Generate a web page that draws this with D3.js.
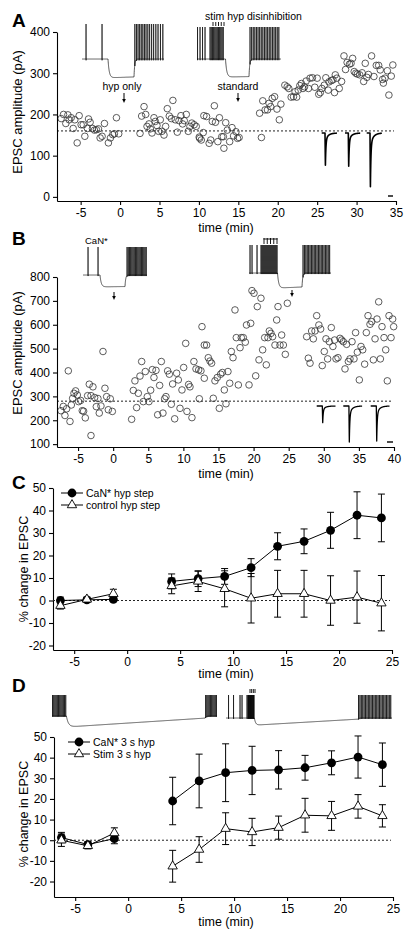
<!DOCTYPE html>
<html><head><meta charset="utf-8">
<script src="https://cdn.jsdelivr.net/npm/d3@7"></script>
<style>
body{margin:0;background:#fff;}
svg text{font-family:"Liberation Sans",Arial,sans-serif;fill:#000;}
</style></head><body>
<svg id="c" width="411" height="941"></svg>
<script>
// ---------------- DATA ----------------
const aTicksX = [-5,0,5,10,15,20,25,30,35];
const aTicksY = [0,100,200,300,400];
const aBaseline = 160;
const aPoints = [
[-7.47,190],[-7.17,200],[-6.88,178],[-6.62,199],[-6.46,187],[-6.2,192],[-5.95,166],[-5.74,187],[-5.44,131],[-5.19,197],[-4.94,175],[-4.68,175],[-4.47,147],[-4.14,166],[-4.0,189],[-3.8,181],[-3.5,166],[-3.25,162],[-3.0,163],[-2.74,165],[-2.53,143],[-2.28,147],[-1.98,178],[-1.48,131],[-1.22,143],[-0.93,151],[-0.72,153],[-0.46,192],[-0.17,153],
[2.53,154],[2.74,196],[3.04,219],[3.25,200],[3.42,171],[3.67,177],[3.84,165],[4.05,155],[4.3,192],[4.47,183],[4.68,173],[4.89,159],[5.1,187],[5.3,159],[5.57,150],[5.78,171],[5.99,214],[6.24,196],[6.5,190],[6.7,234],[7.0,187],[7.26,157],[7.47,185],[7.72,197],[7.93,177],[8.14,185],[8.4,200],[8.65,159],[8.86,171],[9.1,179],[9.4,175],[9.66,171],[10.04,145],[10.1,142],[10.3,138],[10.55,156],[10.63,197],[10.97,195],[11.3,130],[11.5,138],[11.7,183],[11.96,221],[12.1,181],[12.4,134],[12.6,192],[12.9,146],[13.1,146],[13.17,118],[13.4,180],[13.6,162],[13.9,134],[14.2,168],[14.4,148],[14.7,158],[14.9,142],[15.1,144],
[17.93,144],[17.7,203],[18.1,233],[18.4,211],[18.7,211],[18.9,227],[19.1,219],[19.3,239],[19.6,243],[19.9,213],[20.2,187],[20.4,225],[20.9,271],[21.2,267],[21.4,263],[21.7,242],[22.0,243],[22.2,255],[22.4,242],[22.6,259],[22.8,270],[23.0,275],[23.2,263],[23.4,267],[23.6,281],[23.9,263],[24.1,288],[24.4,289],[24.7,266],[25.0,288],[25.2,249],[25.4,253],[25.6,263],[25.9,271],[26.1,289],[26.4,259],[26.5,279],[26.8,282],[27.0,284],[27.2,253],[27.3,296],[27.5,288],[27.8,263],[28.1,280],[28.4,342],[28.6,309],[28.8,326],[29.1,322],[29.3,324],[29.5,336],[29.7,304],[29.9,300],[30.1,298],[30.4,296],[30.7,301],[30.9,280],[31.1,324],[31.3,290],[31.5,297],[31.9,342],[32.2,292],[32.5,319],[32.8,319],[33.0,308],[33.3,285],[33.4,276],[33.6,288],[33.9,306],[34.1,247],[34.4,293],[34.6,320]
];

const bTicksX = [-5,0,5,10,15,20,25,30,35,40];
const bTicksY = [100,200,300,400,500,600,700,800];
const bBaseline = 280;
const bPoints = [
[-7.44,240],[-7.1,258],[-6.87,220],[-6.63,248],[-6.39,407],[-6.15,195],[-5.96,264],[-5.77,292],[-5.58,313],[-5.35,323],[-5.11,306],[-4.92,278],[-4.63,283],[-4.4,240],[-4.21,238],[-3.97,210],[-3.64,303],[-3.4,351],[-3.16,303],[-3.16,136],[-2.88,340],[-2.64,295],[-2.4,257],[-2.17,291],[-1.98,230],[-1.74,260],[-1.45,488],[-1.17,334],[-0.93,299],[-0.69,244],[-0.41,290],[-0.12,237],
[2.63,204],[2.87,325],[3.1,365],[3.34,253],[3.58,313],[3.82,385],[4.06,446],[4.29,278],[4.58,404],[4.86,299],[5.1,278],[5.34,326],[5.58,412],[5.81,379],[6.1,409],[6.34,223],[6.62,346],[6.86,446],[7.09,230],[7.33,290],[7.52,299],[7.76,407],[8.0,393],[8.28,267],[8.47,352],[8.76,206],[9.04,397],[9.28,369],[9.52,250],[9.8,327],[10.04,421],[10.33,522],[10.51,237],[10.75,350],[10.94,340],[11.22,211],[11.5,446],[11.8,415],[12.18,411],[12.5,407],[12.27,290],[12.65,592],[12.98,376],[12.98,515],
[13.31,515],[13.55,462],[13.79,448],[14.02,439],[14.26,292],[14.5,365],[14.83,379],[15.12,250],[15.31,393],[15.55,400],[15.83,327],[16.07,269],[16.35,404],[16.6,355],[16.83,488],[17.07,462],[17.35,662],[17.54,546],[17.83,348],[18.07,504],[18.25,546],[18.54,546],[18.82,527],[18.99,599],[19.35,348],[19.59,606],[19.77,743],[20.06,732],[20.3,386],[20.53,676],[20.77,453],[21.05,711],[21.29,495],[21.58,546],[21.81,432],[22.05,546],[22.24,574],[22.48,564],[22.71,550],[23.05,515],[23.29,620],[23.48,676],[23.76,515],[24.0,557],[24.24,515],[24.52,476],[24.81,690],
[27.56,550],[27.8,460],[28.04,439],[28.27,574],[28.51,541],[28.75,574],[28.99,638],[29.3,599],[29.55,582],[29.78,429],[30.07,488],[30.31,541],[30.55,457],[30.79,529],[31.07,588],[31.3,509],[31.54,536],[31.74,457],[32.02,462],[32.31,543],[32.55,536],[32.78,529],[33.02,415],[33.26,518],[33.5,446],[33.73,457],[34.02,529],[34.3,457],[34.53,567],[34.78,485],[35.06,369],[35.3,509],[35.54,495],[35.82,435],[36.06,567],[36.3,638],[36.58,602],[36.83,613],[37.06,453],[37.3,541],[37.58,624],[37.82,696],[38.06,457],[38.29,592],[38.58,546],[38.82,495],[39.05,365],[39.29,638],[39.58,546],[39.81,624],[39.95,592]
];

const cdTicksX = [-5,0,5,10,15,20,25];
const cdTicksY = [-20,-10,0,10,20,30,40,50];
const cdTimes = [-6.3,-3.8,-1.3,4.2,6.7,9.2,11.7,14.2,16.7,19.2,21.7,24.0];
const cdBaselineCount = 3;

const cSeriesNames = ["CaN* hyp step","control hyp step"];
const cCaN     = [0,0.3,0.5,8.5,9.7,10.7,14.6,24.1,26.3,31.2,37.9,36.7];
const cCaNErr  = [1.5,1,1,3.3,3.5,3.5,4,6,5.5,8,10.4,10.6];
const cCtrl    = [-2.3,0.5,3,6.5,8.5,5.2,1.0,3.0,3.0,0,1.5,-1.2];
const cCtrlErr = [1.5,1,2,3.5,4.5,8,11,10.4,10.4,11,11.6,12.3];

const dSeriesNames = ["CaN* 3 s hyp","Stim 3 s hyp"];
const dCaN     = [1.3,-2.1,0.8,19,28.7,32.7,33.8,34.1,35.1,37.5,40.3,36.6];
const dCaNErr  = [2.5,1.5,2.5,11.5,13,14,11.7,9.3,6,5.8,10.2,10.5];
const dStim    = [0,-2.7,3.5,-12.6,-4.5,5.6,4.0,6.1,12.1,11.8,16.4,11.8];
const dStimErr = [3,1.5,2.5,7.7,6.2,7.7,6.6,5.6,8.2,7,5.7,5.4];

// inset membrane traces: spike times (ms), step [start,end,vStart,vEnd]
const trA1 = {dur:4100, spikes:[200,1000,2640,2720,2800,2880,2960,3040,3120,3200,3290,3380,3480,3580,3690,3800,3920,4040], step:[1300,2600,-103,-101]};
const trA2 = {dur:4200, spikes:[25,150,275,400,650,710,770,830,890,950,1010,1070,1130,1190,1250,1310,2650,2730,2810,2890,2970,3050,3130,3210,3290,3370,3450,3530,3610,3690,3770,3850,3930,4010,4090], step:[1425,2600,-105,-104]};
const trB1 = {dur:3200, spikes:[250,750,2200,2260,2320,2380,2440,2500,2560,2620,2680,2740,2800,2860,2920,2980,3040,3100,3160], step:[850,2100,-94,-93]};
const trB2 = {dur:4100, spikes:[50,150,400,600,650,700,750,800,850,900,950,1000,1050,1100,1150,1200,1250,1300,1350,1400,2700,2770,2840,2910,2980,3050,3120,3190,3260,3330,3400,3470,3540,3610,3680,3750,3820,3890,3960,4030], step:[1425,2650,-103,-100]};
const trD1 = {dur:8250, spikes:[25,85,145,205,265,325,385,445,505,565,625,685,7680,7740,7800,7860,7920,7980,8040,8100,8160,8220], step:[720,7650,-102,-68]};
const trD2 = {dur:8300, spikes:[125,375,700,800,1050,1100,1130,1160,1190,1220,1250,1280,1310,1340,1370,1400,6625,6695,6765,6835,6905,6975,7045,7115,7185,7255,7325,7395,7465,7535,7605,7675,7745,7815,7885,7955,8025,8095,8165,8235], step:[1420,6600,-85,-64]};

// inset EPSC amplitudes (pA, inset scale)
const aEpsc = [100,103,167];
const bEpsc = [52,112,109];

// ---------------- DRAWING ----------------
const svg = d3.select('#c');
svg.append('rect').attr('width',411).attr('height',941).attr('fill','#fff');
const FONT = '"Liberation Sans", Arial, sans-serif';
const fmt = d => String(d);

function drawAxes(x, y, xt, yt) {
  const ax = svg.append('g').attr('transform',`translate(0,${y.range()[0]})`)
    .call(d3.axisBottom(x).tickValues(xt).tickSize(4).tickSizeOuter(0).tickFormat(fmt));
  const ay = svg.append('g').attr('transform',`translate(${x.range()[0]},0)`)
    .call(d3.axisLeft(y).tickValues(yt).tickSize(4).tickSizeOuter(0).tickFormat(fmt));
  [ax,ay].forEach(a=>{
    a.attr('font-family',FONT).attr('font-size',12);
    a.selectAll('text').attr('fill','#000');
    a.select('.domain').attr('stroke','#000').attr('stroke-width',1.1);
    a.selectAll('.tick line').attr('stroke','#000').attr('stroke-width',1.1);
  });
}
function label(txt,x,y,size,opts={}) {
  const t = svg.append('text').attr('x',x).attr('y',y).attr('font-size',size).text(txt);
  if (opts.anchor) t.attr('text-anchor',opts.anchor);
  if (opts.bold) t.attr('font-weight','bold');
  if (opts.rot) t.attr('transform',`rotate(-90,${x},${y})`);
  return t;
}
function dotted(x,y,v) {
  svg.append('line').attr('x1',x.range()[0]).attr('x2',x.range()[1]-2)
    .attr('y1',y(v)).attr('y2',y(v)).attr('stroke','#222').attr('stroke-width',1).attr('stroke-dasharray','2,2');
}
function arrow(x,y1,y2){
  svg.append('line').attr('x1',x).attr('x2',x).attr('y1',y1).attr('y2',y2-3).attr('stroke','#000').attr('stroke-width',1);
  svg.append('path').attr('d',`M${x-1.8},${y2-4}L${x+1.8},${y2-4}L${x},${y2}Z`).attr('fill','#000');
}
function marks(x0,x1,n,y1,y2,bar){
  const xs = d3.scaleLinear([0,n-1],[x0,x1]);
  d3.range(n).forEach(i=>svg.append('line').attr('x1',xs(i)).attr('x2',xs(i)).attr('y1',y1).attr('y2',y2).attr('stroke','#000').attr('stroke-width',0.9));
  if (bar) svg.append('line').attr('x1',x0-0.5).attr('x2',x1+0.5).attr('y1',y1+1).attr('y2',y1+1).attr('stroke','#000').attr('stroke-width',0.9);
}

function buildVm(cfg, tauOn=60, tauOff=35) {
  const rest=-60, peak=20, [ts,te,v0,v1]=cfg.step;
  const v = t=>{
    if (t<ts) return rest;
    if (t<=te){ const l=v0+(v1-v0)*(t-ts)/(te-ts); return rest+(l-rest)*(1-Math.exp(-(t-ts)/tauOn)); }
    const vte = rest+(v1-rest)*(1-Math.exp(-(te-ts)/tauOn));
    return rest+(vte-rest)*Math.exp(-(t-te)/tauOff);
  };
  const sp = cfg.spikes.slice().sort((a,b)=>a-b);
  const pts=[]; let si=0, last=-1;
  for (let t=0;t<=cfg.dur;t+=5){
    while (si<sp.length && sp[si]<=t){ const s=sp[si]; pts.push([s,v(s)],[s+2,peak],[s+4,v(s)-3]); last=s+4; si++; }
    if (t>last) pts.push([t,v(t)]);
  }
  return pts;
}
function drawTrace(cfg,x0,x1,yRest,yPeak,tauOn,tauOff){
  const xs=d3.scaleLinear([0,cfg.dur],[x0,x1]);
  const ys=d3.scaleLinear([-60,20],[yRest,yPeak]);
  const line=d3.line().x(d=>xs(d[0])).y(d=>ys(d[1]));
  svg.append('path').attr('d',line(buildVm(cfg,tauOn,tauOff))).attr('fill','none').attr('stroke','#000').attr('stroke-width',0.65);
}
function drawEpsc(amp, x0, yBase, pre, total, pxPerMs, pxPerPa, width){
  const xs=d3.scaleLinear([0,total],[x0,x0+total*pxPerMs]);
  const ys=d3.scaleLinear([0,1],[yBase,yBase+pxPerPa]);
  const pts=[];
  for(let t=0;t<=total;t+=0.25){
    let v=0;
    if(t>=pre && t<pre+1.2) v=amp*(t-pre)/1.2;
    else if(t>=pre+1.2){ const u=t-pre-1.2; v=amp*(0.8*Math.exp(-u/1.6)+0.2*Math.exp(-u/9)); }
    pts.push([t,v]);
  }
  svg.append('path').attr('d',d3.line().x(d=>xs(d[0])).y(d=>ys(d[1]))(pts))
    .attr('fill','none').attr('stroke','#000').attr('stroke-width',width).attr('stroke-linejoin','round');
}
function scatter(x,y,pts){
  svg.append('g').selectAll('circle').data(pts).join('circle')
    .attr('cx',d=>x(d[0])).attr('cy',d=>y(d[1])).attr('r',3.3)
    .attr('fill','none').attr('stroke','#333').attr('stroke-width',0.8);
}

// ---------- Panel A ----------
const xA=d3.scaleLinear([-8,35],[57,396]);
const yA=d3.scaleLinear([-10,400],[201,32]);
dotted(xA,yA,aBaseline);
scatter(xA,yA,aPoints);
drawAxes(xA,yA,aTicksX,aTicksY);
label('A',12,27,19,{bold:true});
label('EPSC amplitude (pA)',22,112,13,{anchor:'middle',rot:true});
label('time (min)',226,232,12.5,{anchor:'middle'});
drawTrace(trA1,82,164,59,24);
drawTrace(trA2,197,281,59,27);
label('hyp only',122,90,10.5,{anchor:'middle'});
arrow(124,93,103);
label('stim hyp disinhibition',205,20,10.5);
marks(213,224,5,22,26,false);
label('standard',238,90,10.5,{anchor:'middle'});
arrow(238,93,102);
[321.7,345,366.7].forEach((x0,i)=>drawEpsc(aEpsc[i],x0,133,10,46,0.33,0.33,1.6));
svg.append('line').attr('x1',388).attr('x2',393).attr('y1',196).attr('y2',196).attr('stroke','#000').attr('stroke-width',1.4);

// ---------- Panel B ----------
const xB=d3.scaleLinear([-8,40],[57,394]);
const yB=d3.scaleLinear([88,800],[447,277]);
dotted(xB,yB,bBaseline);
scatter(xB,yB,bPoints);
drawAxes(xB,yB,bTicksX,bTicksY);
label('B',12,245,19,{bold:true});
label('EPSC amplitude (pA)',22,353,13,{anchor:'middle',rot:true});
label('time (min)',226,478,12.5,{anchor:'middle'});
drawTrace(trB1,83,147,275,247);
drawTrace(trB2,249,331,273,245);
label('CaN*',85,244,9.5);
arrow(114,292,300);
arrow(292,290,297);
marks(264,277,5,238,244,true);
[316.7,343.3,370.7].forEach((x0,i)=>drawEpsc(bEpsc[i],x0,406,17,57,0.33,0.33,1.3));
svg.append('line').attr('x1',387).attr('x2',393).attr('y1',442).attr('y2',442).attr('stroke','#000').attr('stroke-width',1.4);

// ---------- Panels C & D ----------
function marker(cx,cy,kind){
  if(kind==='circle') svg.append('circle').attr('cx',cx).attr('cy',cy).attr('r',4.4).attr('fill','#000');
  else svg.append('path').attr('d',d3.symbol(d3.symbolTriangle,38)()).attr('transform',`translate(${cx},${cy})`)
    .attr('fill','#fff').attr('stroke','#000').attr('stroke-width',0.9);
}
function meanPanel(x,y,sA,eA,sB,eB,names,legX,legY){
  dotted(x,y,0);
  const segs=[d3.range(0,cdBaselineCount),d3.range(cdBaselineCount,cdTimes.length)];
  function series(vals,errs,kind){
    const line=d3.line().x(i=>x(cdTimes[i])).y(i=>y(vals[i]));
    segs.forEach(s=>svg.append('path').attr('d',line(s)).attr('fill','none').attr('stroke','#000').attr('stroke-width',1));
    const g=svg.append('g').attr('stroke','#000').attr('stroke-width',1);
    cdTimes.forEach((t,i)=>{
      const cx=x(t), y1=y(vals[i]-errs[i]), y2=y(vals[i]+errs[i]);
      g.append('line').attr('x1',cx).attr('x2',cx).attr('y1',y1).attr('y2',y2);
      g.append('line').attr('x1',cx-3.5).attr('x2',cx+3.5).attr('y1',y1).attr('y2',y1);
      g.append('line').attr('x1',cx-3.5).attr('x2',cx+3.5).attr('y1',y2).attr('y2',y2);
    });
    cdTimes.forEach((t,i)=>marker(x(t),y(vals[i]),kind));
  }
  series(sA,eA,'circle');
  series(sB,eB,'tri');
  names.forEach((n,k)=>{
    const ly=legY+k*12;
    svg.append('line').attr('x1',legX).attr('x2',legX+22).attr('y1',ly).attr('y2',ly).attr('stroke','#000').attr('stroke-width',1);
    marker(legX+11,ly,k===0?'circle':'tri');
    label(n,legX+25,ly+3.8,10.5);
  });
}

const xC=d3.scaleLinear([-7,25],[53,392]);
const yC=d3.scaleLinear([-22,50],[650,488]);
drawAxes(xC,yC,cdTicksX,cdTicksY);
meanPanel(xC,yC,cCaN,cCaNErr,cCtrl,cCtrlErr,cSeriesNames,61,493);
label('C',12,489,19,{bold:true});
label('% change in EPSC',28,569,12.5,{anchor:'middle',rot:true});
label('time (min)',226,678,12.5,{anchor:'middle'});

const xD=d3.scaleLinear([-7,25],[54,393]);
const yD=d3.scaleLinear([-27.5,50],[897,737]);
drawAxes(xD,yD,cdTicksX,cdTicksY);
meanPanel(xD,yD,dCaN,dCaNErr,dStim,dStimErr,dSeriesNames,68,742);
label('D',12,692,19,{bold:true});
label('% change in EPSC',28,814,12.5,{anchor:'middle',rot:true});
label('time (min)',226,926,12.5,{anchor:'middle'});
drawTrace(trD1,52,217,716,695,100,60);
drawTrace(trD2,226,392,718,695,60,60);
marks(250,255,4,689,693,false);
</script></body></html>
